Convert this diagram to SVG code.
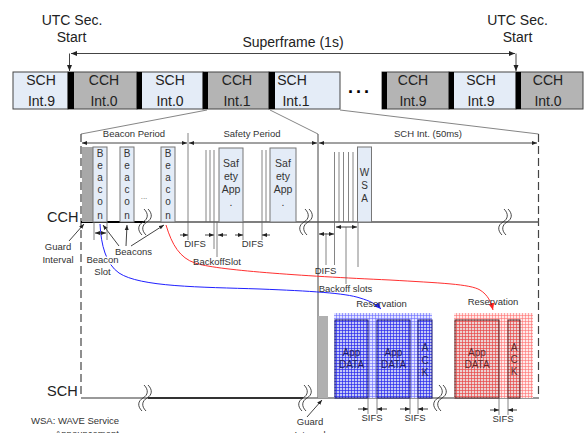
<svg xmlns="http://www.w3.org/2000/svg" width="584" height="433" viewBox="0 0 584 433">
<defs>
<style>
text{font-family:"Liberation Sans",Arial,sans-serif;fill:#222}
.big{font-size:14px;text-anchor:middle}
.lbl{font-size:14.5px}
.sm{font-size:9.5px;fill:#333;text-anchor:middle}
.v{font-size:10px;fill:#333;text-anchor:middle}
.halo{stroke:#fff;stroke-width:3;paint-order:stroke;stroke-linejoin:round}
.sch{fill:#e4ecf7;stroke:#444;stroke-width:1}
.cch{fill:#b4b4b4;stroke:#444;stroke-width:1}
.bar{fill:#000}
.ln{stroke:#444;stroke-width:1;fill:none}
.thin{stroke:#666;stroke-width:0.8;fill:none}
.dash{stroke:#444;stroke-width:1.2;stroke-dasharray:8 4;fill:none}
.slot{fill:#e4ecf7;stroke:#777;stroke-width:1}
.sq{stroke:#333;stroke-width:0.9;fill:none}
.bbox{fill:url(#bdark);stroke:#101070;stroke-width:1}
.rbox{fill:url(#rdark);stroke:#502020;stroke-width:1}
.bt{font-size:10px;fill:#202060;text-anchor:middle}
.rt{font-size:10px;fill:#602828;text-anchor:middle}
</style>
<marker id="a" markerWidth="6" markerHeight="6" refX="6" refY="3" orient="auto-start-reverse" markerUnits="userSpaceOnUse"><path d="M0,0.5 L6,3 L0,5.5Z" fill="#222"/></marker>
<marker id="s" markerWidth="5" markerHeight="5" refX="5" refY="2.5" orient="auto-start-reverse" markerUnits="userSpaceOnUse"><path d="M0,0.5 L5,2.5 L0,4.5Z" fill="#222"/></marker>
<marker id="ab" markerWidth="8" markerHeight="8" refX="7" refY="4" orient="auto" markerUnits="userSpaceOnUse"><path d="M0,1 L7,4 L0,7Z" fill="#2020ff"/></marker>
<marker id="ar" markerWidth="8" markerHeight="8" refX="7" refY="4" orient="auto" markerUnits="userSpaceOnUse"><path d="M0,1 L7,4 L0,7Z" fill="#ff2020"/></marker>
<pattern id="blight" width="3" height="3" patternUnits="userSpaceOnUse"><rect width="3" height="3" fill="#e2e4ff"/><path d="M0,0.5H3M0.5,0V3" stroke="#6868ff" stroke-width="0.6"/></pattern>
<pattern id="bdark" width="3" height="3" patternUnits="userSpaceOnUse"><rect width="3" height="3" fill="#c4c8f6"/><path d="M0,0.5H3M0.5,0V3" stroke="#2828ee" stroke-width="0.7"/></pattern>
<pattern id="rlight" width="3" height="3" patternUnits="userSpaceOnUse"><rect width="3" height="3" fill="#feeaea"/><path d="M0,0.5H3M0.5,0V3" stroke="#ff7070" stroke-width="0.6"/></pattern>
<pattern id="rdark" width="3" height="3" patternUnits="userSpaceOnUse"><rect width="3" height="3" fill="#ecd2d2"/><path d="M0,0.5H3M0.5,0V3" stroke="#e84848" stroke-width="0.7"/></pattern>
<g id="sqg"><path class="sq" d="M1,-13 C6,-8 5,-3 0,0 C-5,3 -6,8 -1,13 M5,-13 C10,-8 9,-3 4,0 C-1,3 -2,8 3,13"/></g>
</defs>
<rect width="584" height="433" fill="#fff"/>

<!-- top labels -->
<g id="utc-left"><text class="big" x="72" y="25">UTC Sec.</text><text class="big" x="71.5" y="42">Start</text></g>
<g id="utc-right"><text class="big" x="517.5" y="25">UTC Sec.</text><text class="big" x="517.5" y="42">Start</text></g>
<g id="superframe-label"><text class="big" x="293" y="47">Superframe (1s)</text></g>

<!-- superframe intervals -->
<g id="sf-sch9a"><rect class="sch" x="13" y="72" width="55" height="37"/><text class="big" x="41" y="85">SCH</text><text class="big" x="41.5" y="106">Int.9</text></g>
<g id="sf-cch0a"><rect class="cch" x="68" y="72" width="69" height="37"/><rect class="bar" x="68" y="72" width="6" height="37"/><text class="big" x="104" y="85">CCH</text><text class="big" x="104" y="106">Int.0</text></g>
<g id="sf-sch0"><rect class="sch" x="137" y="72" width="66" height="37"/><rect class="bar" x="137" y="72" width="5" height="37"/><text class="big" x="170" y="85">SCH</text><text class="big" x="170" y="106">Int.0</text></g>
<g id="sf-cch1"><rect class="cch" x="203" y="72" width="66" height="37"/><rect class="bar" x="203" y="72" width="5" height="37"/><text class="big" x="237" y="85">CCH</text><text class="big" x="237" y="106">Int.1</text></g>
<g id="sf-sch1"><rect class="sch" x="269" y="72" width="71" height="37"/><rect class="bar" x="269" y="72" width="6" height="37"/><text class="big" x="292" y="85">SCH</text><text class="big" x="296" y="106">Int.1</text></g>
<g id="sf-dots"><text x="360" y="93" style="font-size:18px;font-weight:bold;text-anchor:middle;letter-spacing:3px;fill:#000">...</text></g>
<g id="sf-cch9"><rect class="cch" x="382" y="72" width="67" height="37"/><rect class="bar" x="382" y="72" width="5" height="37"/><text class="big" x="413" y="85">CCH</text><text class="big" x="413" y="106">Int.9</text></g>
<g id="sf-sch9b"><rect class="sch" x="449" y="72" width="67" height="37"/><rect class="bar" x="449" y="72" width="5" height="37"/><text class="big" x="481" y="85">SCH</text><text class="big" x="481" y="106">Int.9</text></g>
<g id="sf-cch0b"><rect class="cch" x="516" y="72" width="67" height="37"/><rect class="bar" x="516" y="72" width="5" height="37"/><text class="big" x="548" y="85">CCH</text><text class="big" x="548" y="106">Int.0</text></g>

<!-- channel labels -->
<g id="cch-label"><text class="lbl" x="47" y="222">CCH</text></g>
<g id="sch-label"><text class="lbl" x="47" y="396">SCH</text></g>

<!-- period labels -->
<g id="beacon-period"><text class="sm" x="134" y="137">Beacon Period</text></g>
<g id="safety-period"><text class="sm" x="252" y="137">Safety Period</text></g>
<g id="sch-int"><text class="sm" x="428" y="137">SCH Int. (50ms)</text></g>

<!-- connectors -->
<g id="connectors">
 <path class="ln" d="M515,53.5 H71" marker-start="url(#a)" marker-end="url(#a)"/>
 <path class="ln" d="M69.5,53.5 V71" marker-end="url(#a)"/>
 <path class="ln" d="M516,53.5 V71" marker-end="url(#a)"/>
 <path class="thin" d="M207,110 L81,134 M270,110 L318,134 M340,110 L538.5,134"/>
 <path class="ln" d="M82,143 H187" marker-start="url(#s)" marker-end="url(#s)"/>
 <path class="ln" d="M189,143 H317" marker-start="url(#s)" marker-end="url(#s)"/>
 <path class="ln" d="M319,143 H537" marker-start="url(#s)" marker-end="url(#s)"/>
 <path class="dash" d="M81,134 V398"/>
 <path class="dash" d="M538.5,134 V398"/>
 <path class="ln" d="M318,134 V398"/>
 <path class="thin" d="M188,133 V240"/>
 <!-- channel base lines -->
 <path d="M81,222 H539" stroke="#555" stroke-width="1.3"/>
 <path d="M81,222 H145" stroke="#000" stroke-width="1.8"/>
 <path d="M81,398 H539" stroke="#777" stroke-width="1.6"/>
 <path d="M148,398 H303" stroke="#111" stroke-width="1.6"/>
 <!-- curves -->
 <path d="M100,224 C101,245 106,264 119,273 C140,287 200,287 260,289 C310,291 345,293 360,298 C370,301 376,304 381,309" stroke="#2020ff" stroke-width="1" fill="none" marker-end="url(#ab)"/>
 <path d="M166,225 C172,245 180,258 195,263 C215,270 300,276 390,280 C440,283 470,284 480,290 C488,295 491,302 493,310" stroke="#ff3030" stroke-width="1" fill="none" marker-end="url(#ar)"/>
 <!-- pointer arrows -->
 <path class="ln" d="M69,241 L84,224" marker-end="url(#s)"/>
 <path class="ln" d="M119,246 L103,225" marker-end="url(#s)"/>
 <path class="ln" d="M126,246 L127,225" marker-end="url(#s)"/>
 <path class="ln" d="M131,246 L164,225" marker-end="url(#s)"/>
 <path class="ln" d="M307,417 L322,400" marker-end="url(#s)"/>
</g>

<!-- squiggles -->
<g id="breaks">
 <use href="#sqg" x="143" y="222"/>
 <use href="#sqg" x="304" y="222"/>
 <use href="#sqg" x="503" y="222"/>
 <use href="#sqg" x="143" y="398"/>
 <use href="#sqg" x="303" y="398"/>
 <use href="#sqg" x="438" y="398"/>
</g>

<!-- CCH contents -->
<g id="cch-guard"><rect x="82" y="147" width="11" height="75" fill="#a8a8a8"/></g>
<g id="beacon1"><rect class="slot" x="93" y="147" width="14" height="75"/><text class="v"><tspan x="100" y="157">B</tspan><tspan x="100" y="169">e</tspan><tspan x="100" y="181">a</tspan><tspan x="100" y="193">c</tspan><tspan x="100" y="205">o</tspan><tspan x="100" y="219">n</tspan></text></g>
<g id="beacon2"><rect class="slot" x="120" y="147" width="14" height="75"/><text class="v"><tspan x="127" y="157">B</tspan><tspan x="127" y="169">e</tspan><tspan x="127" y="181">a</tspan><tspan x="127" y="193">c</tspan><tspan x="127" y="205">o</tspan><tspan x="127" y="219">n</tspan></text></g>
<g id="beacon-dots"><text x="144" y="199" style="font-size:8px;fill:#666;text-anchor:middle">...</text></g>
<g id="beacon3"><rect class="slot" x="161" y="147" width="14" height="75"/><text class="v"><tspan x="168" y="157">B</tspan><tspan x="168" y="169">e</tspan><tspan x="168" y="181">a</tspan><tspan x="168" y="193">c</tspan><tspan x="168" y="205">o</tspan><tspan x="168" y="219">n</tspan></text></g>
<g id="safety-slots"><path class="thin" d="M206,150 V222 M210,150 V222 M214,150 V222 M262,150 V222 M266,150 V222"/></g>
<g id="safety1"><rect class="slot" x="219" y="148" width="24" height="74"/><text class="v" style="font-size:10.5px"><tspan x="231" y="167">Saf</tspan><tspan x="231" y="180">ety</tspan><tspan x="231" y="193">App</tspan><tspan x="231" y="206">.</tspan></text></g>
<g id="safety2"><rect class="slot" x="270" y="148" width="26" height="74"/><text class="v" style="font-size:10.5px"><tspan x="283" y="167">Saf</tspan><tspan x="283" y="180">ety</tspan><tspan x="283" y="193">App</tspan><tspan x="283" y="206">.</tspan></text></g>
<g id="wsa-slots"><path class="thin" d="M334.5,152 V222 M339,152 V222 M343.5,152 V222 M348.5,152 V222 M353,152 V222"/></g>
<g id="wsa"><rect class="slot" x="357.5" y="147" width="14" height="75"/><text class="v"><tspan x="364.5" y="176">W</tspan><tspan x="364.5" y="189">S</tspan><tspan x="364.5" y="202">A</tspan></text></g>

<!-- annotations below CCH -->
<g id="guard-cch"><text class="sm" x="58" y="250">Guard</text><text class="sm" x="58" y="263">Interval</text></g>
<g id="beacon-slot"><path class="thin" d="M94,222 V240 M107,222 V240"/><path class="ln" d="M95,233 H106" marker-start="url(#s)" marker-end="url(#s)"/><text class="sm halo" x="102.5" y="263">Beacon</text><text class="sm halo" x="102.5" y="275">Slot</text></g>
<g id="beacons-label"><text class="sm" x="133.5" y="255">Beacons</text></g>
<g id="difs1"><path class="ln" d="M180,235 H188" marker-end="url(#s)"/><path class="ln" d="M205,235 H214" marker-end="url(#s)"/><text class="sm" x="195" y="247">DIFS</text></g>
<g id="backoffslot"><path class="thin" d="M214,222 V249 M217,222 V257"/><path class="ln" d="M227,235 H218" marker-end="url(#s)"/><text class="sm" x="217" y="265">BackoffSlot</text></g>
<g id="difs2"><path class="thin" d="M243,222 V240 M262,222 V240"/><path class="ln" d="M235,235 H243" marker-end="url(#s)"/><path class="ln" d="M270,235 H262" marker-end="url(#s)"/><text class="sm" x="252.5" y="247">DIFS</text></g>
<g id="difs3"><path class="thin" d="M326,233 V265 M334.5,222 V265"/><path class="ln" d="M319,234 H334" marker-start="url(#s)" marker-end="url(#s)"/><text class="sm" x="325.5" y="274">DIFS</text></g>
<g id="backoff-slots"><path class="thin" d="M346,227 V284 M358,222 V267"/><path class="ln" d="M336,227 H357" marker-start="url(#s)" marker-end="url(#s)"/><text class="sm" x="345.5" y="292">Backoff slots</text></g>

<!-- SCH contents -->
<g id="sch-guard"><rect x="318" y="316" width="10" height="82" fill="#b0b0b0"/><text class="sm" x="310" y="425">Guard</text><text class="sm" x="310" y="438">Interval</text></g>
<g id="blue-reservation">
 <text class="sm" x="381.5" y="307">Reservation</text>
 <rect x="334" y="313" width="98" height="85" fill="url(#blight)"/>
 <rect class="bbox" x="335" y="320" width="33" height="78"/>
 <rect class="bbox" x="377" y="320" width="33" height="78"/>
 <rect class="bbox" x="418" y="320" width="14" height="78"/>
 <text class="bt"><tspan x="351.5" y="356">App</tspan><tspan x="351.5" y="368">DATA</tspan></text>
 <text class="bt"><tspan x="393.5" y="356">App</tspan><tspan x="393.5" y="368">DATA</tspan></text>
 <text class="bt"><tspan x="425" y="351">A</tspan><tspan x="425" y="364">C</tspan><tspan x="425" y="376">K</tspan></text>
</g>
<g id="red-reservation">
 <text class="sm" x="493" y="305">Reservation</text>
 <rect x="454" y="313" width="79" height="85" fill="url(#rlight)"/>
 <rect class="rbox" x="455" y="320" width="44" height="78"/>
 <rect class="rbox" x="508" y="320" width="12" height="78"/>
 <text class="rt"><tspan x="477" y="356">App</tspan><tspan x="477" y="368">DATA</tspan></text>
 <text class="rt"><tspan x="514" y="351">A</tspan><tspan x="514" y="363">C</tspan><tspan x="514" y="375">K</tspan></text>
</g>
<g id="sifs1"><path class="thin" d="M368,398 V414 M377,398 V414"/><path class="ln" d="M358,409 H368" marker-end="url(#s)"/><path class="ln" d="M387,409 H377" marker-end="url(#s)"/><text class="sm" x="372" y="421">SIFS</text></g>
<g id="sifs2"><path class="thin" d="M410,398 V414 M418,398 V414"/><path class="ln" d="M400,409 H410" marker-end="url(#s)"/><path class="ln" d="M428,409 H418" marker-end="url(#s)"/><text class="sm" x="415" y="421">SIFS</text></g>
<g id="sifs3"><path class="thin" d="M499,398 V415 M508,398 V415"/><path class="ln" d="M490,410 H499" marker-end="url(#s)"/><path class="ln" d="M517,410 H508" marker-end="url(#s)"/><text class="sm" x="503" y="422">SIFS</text></g>

<g id="legend"><text x="31" y="424" style="font-size:9.5px;fill:#333">WSA: WAVE Service</text><text x="55" y="437" style="font-size:9.5px;fill:#333">Announcement</text></g>
</svg>
